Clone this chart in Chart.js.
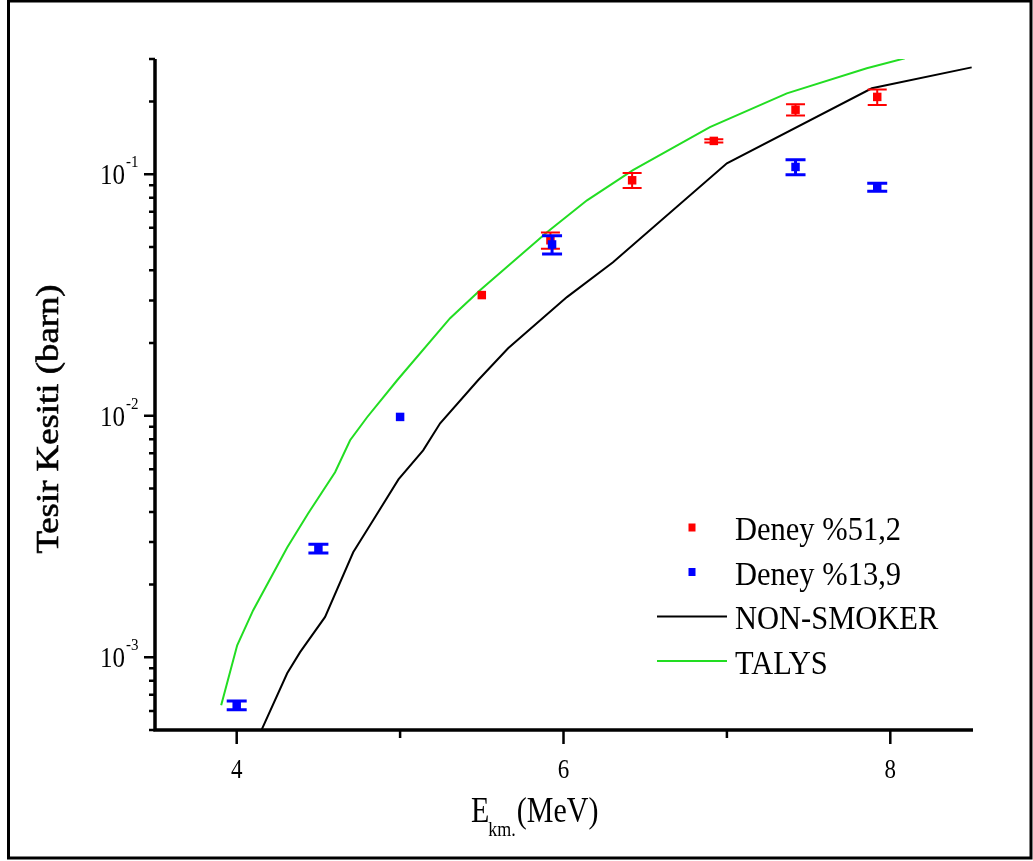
<!DOCTYPE html>
<html>
<head>
<meta charset="utf-8">
<script src="https://cdn.jsdelivr.net/npm/chart.js@4.4.1/dist/chart.umd.min.js"></script>
<style>
  html, body { margin: 0; padding: 0; background: #ffffff; }
  canvas { display: block; }
</style>
</head>
<body>
<canvas id="chart" width="1033" height="861"></canvas>
<script>
// Measured cross sections (barn) vs. centre-of-mass energy (MeV)
const energyEnr512 = [5.50, 5.92, 6.42, 6.92, 7.42, 7.92];
const sigmaEnr512  = [0.0316, 0.0533, 0.0944, 0.1374, 0.185, 0.209];
const errorEnr512  = [null, 0.0041, 0.0068, 0.0022, 0.0100, 0.0155];

const energyEnr139 = [4.00, 4.50, 5.00, 5.93, 7.42, 7.92];
const sigmaEnr139  = [6.33e-4, 2.82e-3, 9.89e-3, 0.0512, 0.1072, 0.0884];
const errorEnr139  = [0.27e-4, 0.12e-3, null, 0.0044, 0.0077, 0.0034];

// Hauser-Feshbach predictions
const energyNonSmoker = [4.10, 4.309, 4.388, 4.541, 4.713, 4.835, 4.99, 5.141, 5.245, 5.477, 5.661, 6.021, 6.303, 7.00, 7.887, 8.498];
const sigmaNonSmoker  = [4.18e-4, 8.59e-4, 1.05e-3, 1.47e-3, 2.72e-3, 3.69e-3, 5.45e-3, 7.19e-3, 9.31e-3, 0.01403, 0.01904, 0.0310, 0.0432, 0.111, 0.227, 0.277];

const energyTalys = [3.905, 4.003, 4.101, 4.309, 4.437, 4.602, 4.694, 4.798, 4.982, 5.306, 5.489, 5.899, 6.144, 6.425, 6.896, 7.367, 7.856, 8.089];
const sigmaTalys  = [6.33e-4, 1.122e-3, 1.567e-3, 2.85e-3, 3.94e-3, 5.84e-3, 7.92e-3, 9.86e-3, 0.01403, 0.02535, 0.0331, 0.0575, 0.078, 0.104, 0.1566, 0.2163, 0.2748, 0.302];

// Axis ranges and tick labels
const xRange = [3.5, 8.5];
const yRange = [5e-4, 0.3];
const xMajorTicks = [4, 6, 8];
const xMinorTicks = [5, 7];
const xTickLabels = ['4', '6', '8'];
const yDecadeExponents = [-3, -2, -1];
const yTickExponentLabels = ['-3', '-2', '-1'];

const labels = ['Deney %51,2', 'Deney %13,9', 'NON-SMOKER', 'TALYS'];
const xTitleMain = 'E';
const xTitleSub = 'km.';
const xTitleUnit = '(MeV)';
const yTitle = 'Tesir Kesiti (barn)';

const SERIF = "'Liberation Serif', 'Times New Roman', serif";

function toPoints(xs, ys) { return xs.map((x, i) => ({ x: x, y: ys[i] })); }

// Draw text with an optional vertical stretch around its baseline
function stretchedText(c, str, x, y, size, align, sy, weight) {
  c.save();
  c.translate(x, y);
  c.scale(1, sy);
  c.font = (weight || '') + ' ' + size + 'px ' + SERIF;
  c.textAlign = align;
  c.textBaseline = 'alphabetic';
  c.fillStyle = '#000';
  c.fillText(str, 0, 0);
  c.restore();
}

// Outer frame
const framePlugin = {
  id: 'frame',
  beforeDraw(chart) {
    const c = chart.ctx;
    c.save();
    c.fillStyle = '#fff';
    c.fillRect(0, 0, chart.width, chart.height);
    c.strokeStyle = '#000';
    c.lineWidth = 3;
    c.strokeRect(8.5, 1, 1022.5, 857);
    c.restore();
  }
};

// Vertical error bars with caps, drawn beneath each dataset's markers
const errorBarPlugin = {
  id: 'errorBars',
  beforeDatasetDraw(chart, args) {
    const ds = chart.data.datasets[args.index];
    if (!ds.errors) return;
    const xs = chart.scales.x, ys = chart.scales.y, c = chart.ctx;
    const cap = ds.capHalfWidth;
    c.save();
    c.strokeStyle = ds.borderColor;
    c.lineWidth = ds.errorLineWidth;
    ds.data.forEach((p, i) => {
      const e = ds.errors[i];
      if (e == null) return;
      const px = xs.getPixelForValue(p.x);
      const top = ys.getPixelForValue(p.y + e);
      const bot = ys.getPixelForValue(p.y - e);
      c.beginPath();
      c.moveTo(px, top); c.lineTo(px, bot);
      c.moveTo(px - cap, top); c.lineTo(px + cap, top);
      c.moveTo(px - cap, bot); c.lineTo(px + cap, bot);
      c.stroke();
    });
    c.restore();
  }
};

// Axis lines, major/minor ticks, tick labels and titles
const axesPlugin = {
  id: 'axes',
  afterDatasetsDraw(chart) {
    const c = chart.ctx, xs = chart.scales.x, ys = chart.scales.y, a = chart.chartArea;
    c.save();
    c.strokeStyle = '#000';
    c.lineCap = 'butt';

    // axis lines
    c.lineWidth = 3.5;
    c.beginPath();
    c.moveTo(a.left, a.top); c.lineTo(a.left, a.bottom + 1.75);
    c.moveTo(a.left - 1.75, a.bottom); c.lineTo(a.right + 1, a.bottom);
    c.stroke();

    // x ticks
    c.lineWidth = 2.5;
    c.beginPath();
    xMajorTicks.forEach(v => { const px = xs.getPixelForValue(v); c.moveTo(px, a.bottom); c.lineTo(px, a.bottom + 14); });
    xMinorTicks.forEach(v => { const px = xs.getPixelForValue(v); c.moveTo(px, a.bottom); c.lineTo(px, a.bottom + 8); });
    // y ticks
    for (let d = -4; d <= -1; d++) {
      for (let m = 1; m <= 9; m++) {
        const v = m * Math.pow(10, d);
        if (v < yRange[0] * 0.999 || v > yRange[1] * 1.001) continue;
        const py = ys.getPixelForValue(v);
        const len = (m === 1) ? 11 : 6;
        c.moveTo(a.left, py); c.lineTo(a.left - len, py);
      }
    }
    c.stroke();

    // x tick labels
    xMajorTicks.forEach((v, i) => {
      stretchedText(c, xTickLabels[i], xs.getPixelForValue(v), 778, 23, 'center', 1.15);
    });
    // y tick labels: 10 with superscript exponent
    yDecadeExponents.forEach((e, i) => {
      const py = ys.getPixelForValue(Math.pow(10, e));
      stretchedText(c, '10', 125, py + 10, 25, 'right', 1.15);
      stretchedText(c, yTickExponentLabels[i], 126, py - 7, 15, 'left', 1.15);
    });

    // x title: E with subscript, then unit
    c.font = '30px ' + SERIF;
    const wE = c.measureText(xTitleMain).width;
    c.font = '18px ' + SERIF;
    const wSub = c.measureText(xTitleSub).width;
    let tx = 471;
    stretchedText(c, xTitleMain, tx, 822, 30, 'left', 1.22);
    tx += wE - 1;
    stretchedText(c, xTitleSub, tx, 836, 18, 'left', 1.22);
    tx += wSub + 1;
    stretchedText(c, xTitleUnit, tx, 822, 30, 'left', 1.22);

    // y title, rotated
    c.save();
    c.translate(58, 419);
    c.rotate(-Math.PI / 2);
    c.scale(1.15, 1);
    c.font = '32px ' + SERIF;
    c.textAlign = 'center';
    c.textBaseline = 'alphabetic';
    c.fillStyle = '#000';
    c.strokeStyle = '#000';
    c.lineWidth = 0.6;
    c.fillText(yTitle, 0, 0);
    c.strokeText(yTitle, 0, 0);
    c.restore();

    c.restore();
  }
};

// Legend inside the plot area
const legendPlugin = {
  id: 'insideLegend',
  afterDraw(chart) {
    const c = chart.ctx;
    const baseX = 735, baseY0 = 540, step = 44.5;
    chart.data.datasets.forEach((ds, i) => {
      const by = baseY0 + i * step;
      const cy = by - 12.5;
      c.save();
      if (ds.type === 'line') {
        c.strokeStyle = ds.borderColor;
        c.lineWidth = ds.borderWidth;
        c.beginPath();
        c.moveTo(657, cy); c.lineTo(727, cy);
        c.stroke();
      } else {
        c.fillStyle = ds.backgroundColor;
        c.fillRect(688.5, cy - 4, 7, 8);
      }
      c.restore();
      stretchedText(c, ds.label, baseX, by, 30.5, 'left', 1.12);
    });
  }
};

new Chart(document.getElementById('chart'), {
  type: 'scatter',
  data: {
    datasets: [
      {
        label: labels[0],
        data: toPoints(energyEnr512, sigmaEnr512),
        errors: errorEnr512,
        errorLineWidth: 2,
        capHalfWidth: 9.5,
        backgroundColor: '#ff0000',
        borderColor: '#ff0000',
        pointStyle: 'rect',
        pointRadius: 6,
        pointBorderWidth: 0,
        order: 1
      },
      {
        label: labels[1],
        data: toPoints(energyEnr139, sigmaEnr139),
        errors: errorEnr139,
        errorLineWidth: 3,
        capHalfWidth: 10,
        backgroundColor: '#0000ff',
        borderColor: '#0000ff',
        pointStyle: 'rect',
        pointRadius: 6,
        pointBorderWidth: 0,
        order: 0
      },
      {
        label: labels[2],
        type: 'line',
        data: toPoints(energyNonSmoker, sigmaNonSmoker),
        borderColor: '#000000',
        backgroundColor: '#000000',
        borderWidth: 2,
        pointRadius: 0,
        tension: 0,
        fill: false,
        order: 3
      },
      {
        label: labels[3],
        type: 'line',
        data: toPoints(energyTalys, sigmaTalys),
        borderColor: '#22dd22',
        backgroundColor: '#22dd22',
        borderWidth: 2,
        pointRadius: 0,
        tension: 0,
        fill: false,
        order: 2
      }
    ]
  },
  options: {
    responsive: false,
    animation: false,
    devicePixelRatio: 1,
    events: [],
    layout: { padding: { left: 155, right: 61, top: 59, bottom: 131 } },
    scales: {
      x: { type: 'linear', min: xRange[0], max: xRange[1], display: false },
      y: { type: 'logarithmic', min: yRange[0], max: yRange[1], display: false }
    },
    plugins: {
      legend: { display: false },
      tooltip: { enabled: false },
      title: { display: false }
    }
  },
  plugins: [framePlugin, errorBarPlugin, axesPlugin, legendPlugin]
});
</script>
</body>
</html>
